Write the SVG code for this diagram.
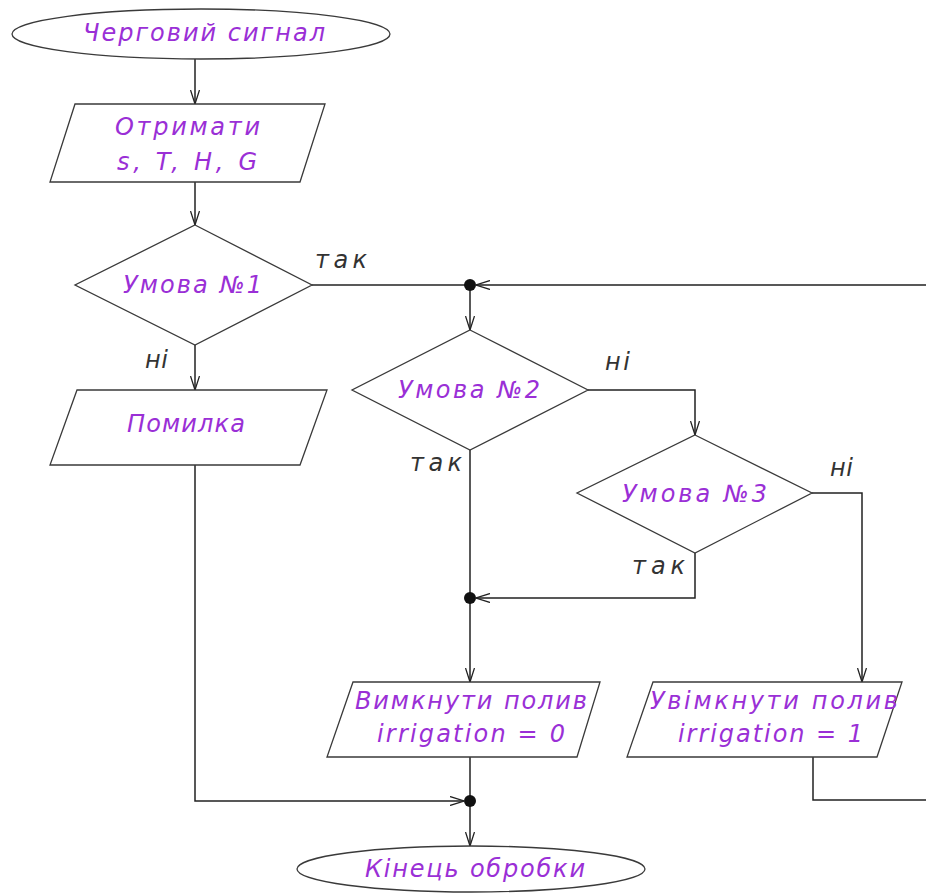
<svg xmlns="http://www.w3.org/2000/svg" width="926" height="894" viewBox="0 0 926 894">
<style>
.shape{fill:#fff;stroke:#3a3a3a;stroke-width:1.3}
.t{font-family:"DejaVu Sans","Liberation Sans",sans-serif;font-style:italic;font-size:24px;fill:#9a2fd6}
.lbl{font-family:"DejaVu Sans","Liberation Sans",sans-serif;font-style:italic;font-size:24px;fill:#333}
.c{fill:none;stroke:#222;stroke-width:1.5}
.dot{fill:#111}
</style>
<defs>
<marker id="arr" viewBox="0 0 14 10" refX="14" refY="5" markerWidth="14" markerHeight="10" markerUnits="userSpaceOnUse" orient="auto">
<path d="M0,0.5 L14,5 L0,9.5" fill="none" stroke="#222" stroke-width="1.3"/>
</marker>
</defs>
<rect width="926" height="894" fill="#fff"/>

<g id="connectors">
<path class="c" d="M195,59 V104" marker-end="url(#arr)"/>
<path class="c" d="M195,182 V225" marker-end="url(#arr)"/>
<path class="c" d="M312,285 H470" stroke="#777"/>
<path class="c" d="M195,345 V390" marker-end="url(#arr)"/>
<path class="c" d="M470,285 V330" marker-end="url(#arr)"/>
<path class="c" d="M813,757 V800 H932 V285 H476" marker-end="url(#arr)"/>
<path class="c" d="M588,390 H695 V435" marker-end="url(#arr)"/>
<path class="c" d="M470,450 V682" marker-end="url(#arr)"/>
<path class="c" d="M695,553 V598 H476" marker-end="url(#arr)"/>
<path class="c" d="M812,493 H862 V682" marker-end="url(#arr)"/>
<path class="c" d="M195,465 V801 H464" marker-end="url(#arr)"/>
<path class="c" d="M470,757 V846" marker-end="url(#arr)"/>
<circle class="dot" cx="470" cy="285" r="6"/>
<circle class="dot" cx="470" cy="598" r="6"/>
<circle class="dot" cx="470" cy="801" r="6"/>
</g>

<g id="start">
<ellipse class="shape" cx="201" cy="34" rx="189" ry="25"/>
<text class="t" x="83" y="41" textLength="242">Черговий сигнал</text>
</g>

<g id="input">
<polygon class="shape" points="75,104 325,104 300,182 50,182"/>
<text class="t" x="115" y="135" textLength="145">Отримати</text>
<text class="t" x="117" y="170" textLength="140">s, T, H, G</text>
</g>

<g id="cond1">
<polygon class="shape" points="195,225 312,285 195,345 75,285"/>
<text class="t" x="123" y="293" textLength="139">Умова №1</text>
<text class="lbl" x="315" y="268" textLength="52">так</text>
<text class="lbl" x="145" y="368" textLength="23">ні</text>
</g>

<g id="error">
<polygon class="shape" points="77,390 327,390 300,465 50,465"/>
<text class="t" x="127" y="432" textLength="118">Помилка</text>
</g>

<g id="cond2">
<polygon class="shape" points="470,330 588,390 470,450 352,390"/>
<text class="t" x="398" y="398" textLength="142">Умова №2</text>
<text class="lbl" x="605" y="370" textLength="25">ні</text>
<text class="lbl" x="410" y="471" textLength="52">так</text>
</g>

<g id="cond3">
<polygon class="shape" points="695,435 812,493 695,553 577,493"/>
<text class="t" x="622" y="502" textLength="145">Умова №3</text>
<text class="lbl" x="830" y="476" textLength="23">ні</text>
<text class="lbl" x="632" y="574" textLength="53">так</text>
</g>

<g id="off">
<polygon class="shape" points="353,682 600,682 577,757 327,757"/>
<text class="t" x="355" y="709" textLength="232">Вимкнути полив</text>
<text class="t" x="377" y="742" textLength="188">irrigation = 0</text>
</g>

<g id="on">
<polygon class="shape" points="653,682 902,682 877,757 627,757"/>
<text class="t" x="650" y="709" textLength="248">Увімкнути полив</text>
<text class="t" x="678" y="742" textLength="185">irrigation = 1</text>
</g>

<g id="end">
<ellipse class="shape" cx="471" cy="869" rx="174" ry="23"/>
<text class="t" x="365" y="877" textLength="220">Кінець обробки</text>
</g>
</svg>
